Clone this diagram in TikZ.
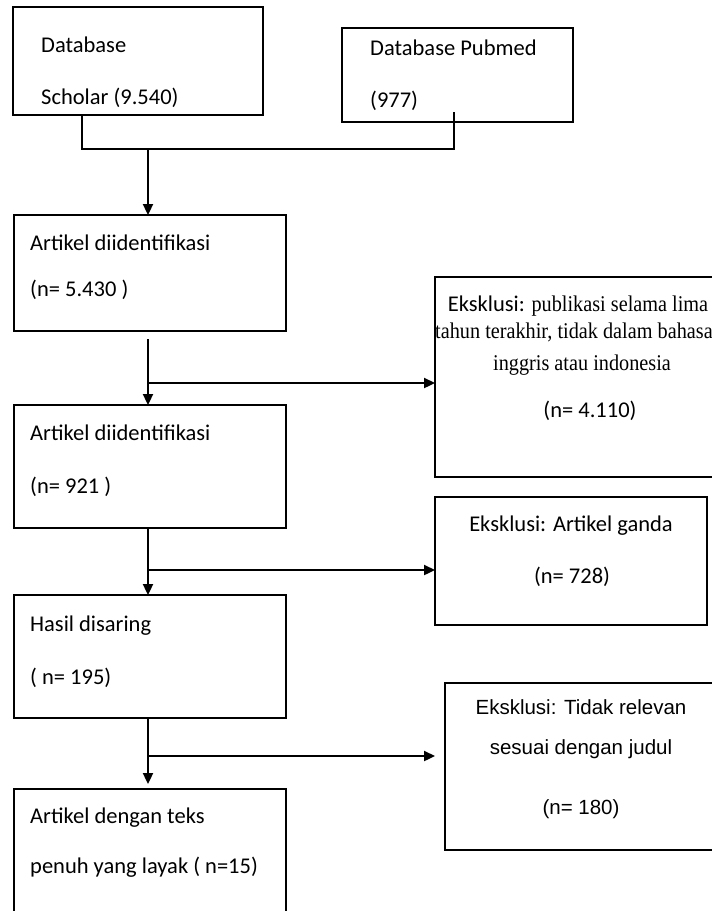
\documentclass[tikz,border=0pt]{standalone}
\usepackage{fontspec}
\setmainfont{Carlito}
\newfontfamily\tnr{Liberation Serif}
\newfontfamily\arl{Liberation Sans}
\usetikzlibrary{arrows.meta}
\newcommand{\tnrtext}[1]{\scalebox{0.9}[1]{\tnr\fontsize{22.5}{24}\selectfont #1}}
\begin{document}
\begin{tikzpicture}[x=1pt,y=-1pt,
  box/.style={draw,line width=1.3pt,anchor=north west,inner sep=0,outer sep=0},
  lbl/.style={anchor=base west,inner sep=0,font=\fontsize{22.5}{25}\selectfont},
  clbl/.style={anchor=base,inner sep=0,font=\fontsize{22.5}{25}\selectfont},
  slbl/.style={anchor=base,inner sep=0},
  albl/.style={anchor=base,inner sep=0,font=\arl\fontsize{20.5}{23}\selectfont},
  thinline/.style={line width=1.3pt},
  thickline/.style={line width=2.3pt},
  arr/.style={line width=2.3pt,-{Triangle[length=11pt,width=10pt]}},
]
\useasboundingbox (0,0) rectangle (712,911);
\clip (0,0) rectangle (712,911);

% boxes
\node[box,minimum width=250pt,minimum height=108pt] (sch) at (13,7) {};
\node[box,minimum width=231pt,minimum height=94pt] (pub) at (342,28) {};
\node[box,minimum width=272pt,minimum height=116pt] (b3) at (14,215) {};
\node[box,minimum width=272pt,minimum height=123pt] (b4) at (14,405) {};
\node[box,minimum width=272pt,minimum height=123pt] (b5) at (14,595) {};
\node[box,minimum width=272pt,minimum height=150pt] (b6) at (14,789) {};
\node[box,minimum width=310pt,minimum height=200pt] (e1) at (435,277) {};
\node[box,minimum width=272pt,minimum height=128pt] (e2) at (435,497) {};
\node[box,minimum width=300pt,minimum height=167pt] (e3) at (445,683) {};

% texts
\node[lbl] (t1a) at (41,52) {Database};
\node[lbl] (t1b) at (41,104) {Scholar (9.540)};
\node[lbl] (t2a) at (370,55) {Database Pubmed};
\node[lbl] (t2b) at (370,107) {(977)};
\node[lbl] (t3a) at (30,250) {Artikel diidentifikasi};
\node[lbl] (t3b) at (30,296) {(n= 5.430 )};
\node[lbl] (t4a) at (30,440) {Artikel diidentifikasi};
\node[lbl] (t4b) at (30,493) {(n= 921 )};
\node[lbl] (t5a) at (30,631) {Hasil disaring};
\node[lbl] (t5b) at (30,684) {( n= 195)};
\node[lbl] (t6a) at (30,823) {Artikel dengan teks};
\node[lbl] (t6b) at (30,873) {penuh yang layak ( n=15)};

\node[clbl] (e1a) at (578,311) {Eksklusi: \tnrtext{publikasi selama lima}};
\node[slbl,anchor=base west] (e1b) at (435,338) {\tnrtext{tahun terakhir, tidak dalam bahasa}};
\node[slbl] (e1c) at (582,370) {\tnrtext{inggris atau indonesia}};
\node[clbl] (e1d) at (590,417) {(n= 4.110)};

\node[clbl] (e2a) at (571,531) {Eksklusi: Artikel ganda};
\node[clbl] (e2b) at (572,583) {(n= 728)};

\node[albl] (e3a) at (581,714) {Eksklusi: Tidak relevan};
\node[albl] (e3b) at (581,754) {sesuai dengan judul};
\node[albl] (e3c) at (581,814) {(n= 180)};

% connectors
\coordinate (sj) at (82,149);
\coordinate (pj) at (454,149);
\coordinate (ptop) at (454,112);
\coordinate (j) at (148,149);
\draw[thinline] (sch.south -| sj) -- (sj);
\draw[thinline] (ptop) -- (pj);
\draw[thickline,line cap=rect] (sj) -- (pj);
\draw[arr] (j) -- (j |- b3.north);

\coordinate (a3) at (148,339);
\coordinate (k3) at (148,383);
\draw[arr] (a3) -- (a3 |- b4.north);
\draw[arr] (k3) -- (k3 -| e1.west);

\coordinate (k4) at (148,570);
\draw[arr] (b4.south -| a3) -- (a3 |- b5.north);
\draw[arr] (k4) -- (k4 -| e2.west);

\coordinate (k5) at (148,756);
\coordinate (t5) at (435,756);
\coordinate (tip5) at (148,784);
\draw[arr] (b5.south -| a3) -- (tip5);
\draw[arr] (k5) -- (t5);
\end{tikzpicture}
\end{document}
